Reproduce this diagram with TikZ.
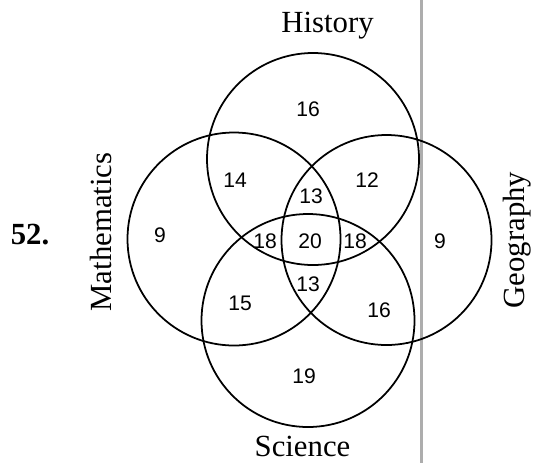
\documentclass[tikz,border=0pt]{standalone}
\usepackage{fontspec}
\setmainfont{Liberation Serif}
\setsansfont{Liberation Sans}
\begin{document}
\begin{tikzpicture}[x=0.02cm,y=-0.02cm,
    num/.style={font=\sffamily\fontsize{12}{14}\selectfont},
    subj/.style={font=\fontsize{17.5}{20}\selectfont},
    ring/.style={line width=1pt}]
\useasboundingbox (0,0) rectangle (533,463);
% margin rule
\draw[black!32,line width=1.4pt] (421.5,0) -- (421.5,463);
% the four sets
\draw[ring] (313,159) circle[radius=106];
\draw[ring] (234,239) circle[radius=106.5];
\draw[ring] (386.5,240) circle[radius=105];
\draw[ring] (308,320.5) circle[radius=106.5];
% titles
\node[font=\bfseries\fontsize{17.5}{20}\selectfont] (qno) at (30,235) {52.};
\node[subj,anchor=base] (hist) at (327.5,32) {History};
\node[subj,anchor=base] (sci) at (302.5,456) {Science};
\node[subj,rotate=90] (math) at (101,232) {Mathematics};
\node[subj,rotate=90] (geo) at (517,240) {Geography};
% region counts
\node[num] (h) at (308,109) {16};
\node[num] (mh) at (235,180) {14};
\node[num] (mhg) at (311,196) {13};
\node[num] (hg) at (367,180) {12};
\node[num] (m) at (160,235) {9};
\node[num] (mhs) at (265,241) {18};
\node[num] (all) at (310,241) {20};
\node[num] (hgs) at (355,241) {18};
\node[num] (g) at (440,241) {9};
\node[num] (mgs) at (308,284) {13};
\node[num] (ms) at (240,303) {15};
\node[num] (gs) at (379,310) {16};
\node[num] (s) at (304,376) {19};
\end{tikzpicture}
\end{document}
